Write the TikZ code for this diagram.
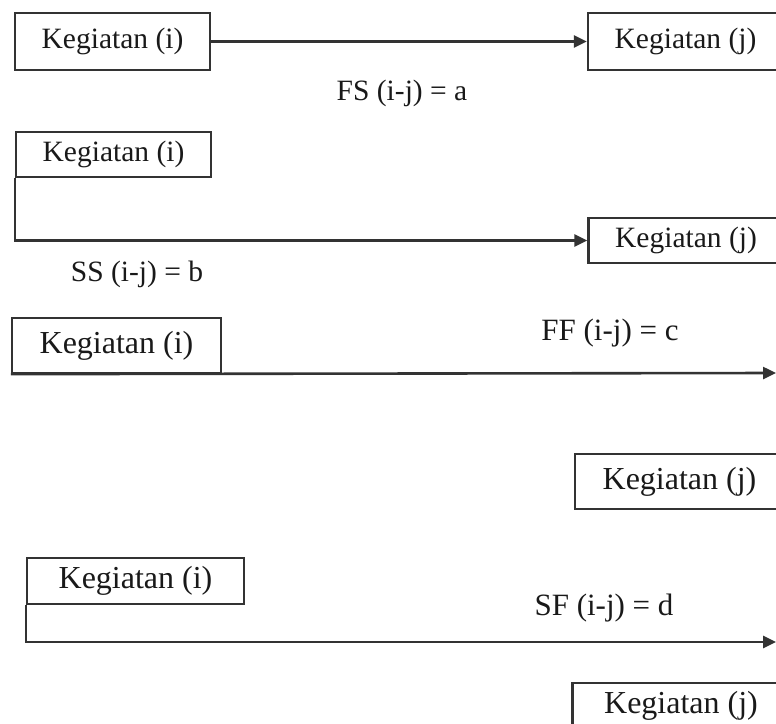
\documentclass[tikz,border=0pt]{standalone}
\usepackage{fontspec}
\setmainfont{Liberation Serif}
\usetikzlibrary{arrows.meta}

\begin{document}
\begin{tikzpicture}[x=1pt, y=-1pt,
            kotak/.style={draw, line width=2.2pt, color=black!80, text=black!90, inner sep=0pt, minimum width=195pt, minimum height=45pt, font=\fontsize{29.5}{31}\selectfont},
            kotakbesar/.style={kotak, font=\fontsize{32}{34}\selectfont},
            garis/.style={line width=2.6pt, color=black!80},
            panah/.style={garis, -{Triangle[length=13pt,width=12pt]}},
            relasi/.style={text=black!90, inner sep=0pt, font=\fontsize{29.5}{31}\selectfont}]
            \useasboundingbox (0,0) rectangle (776,723);
            \clip (0,0) rectangle (776,723);
            % FS
            \node[kotak, minimum height=57pt] (fsi) at (112.5,41.5) {Kegiatan (i)};
            \node[kotak, minimum height=57pt] (fsj) at (685.5,41.5) {Kegiatan (j)};
            \draw[panah] (fsi.east) -- (fsj.west);
            \node[relasi] (fs) at (402,93) {FS (i-j) = a};
            % SS
            \node[kotak] (ssi) at (113.5,154.5) {Kegiatan (i)};
            \node[kotak] (ssj) at (686,240.5) {Kegiatan (j)};
            \draw[panah] (ssi.south west) |- (ssj.west);
            \node[relasi] (ss) at (137,274) {SS (i-j) = b};
            % FF
            \node[kotakbesar, minimum width=209pt, minimum height=55pt] (ffi) at (116.5,345.5) {Kegiatan (i)};
            \node[kotakbesar, minimum width=209pt, minimum height=55pt] (ffj) at (679.5,481.5) {Kegiatan (j)};
            \coordinate (ffe) at (776,373);
            \draw[panah] (ffi.south west) -- (ffe);
            \node[relasi, font=\fontsize{31}{33}\selectfont] (ff) at (610,333) {FF (i-j) = c};
            % SF
            \node[kotakbesar, minimum width=217pt, minimum height=46pt] (sfi) at (135.5,581) {Kegiatan (i)};
            \node[kotakbesar, minimum width=217pt, minimum height=46pt] (sfj) at (681,706) {Kegiatan (j)};
            \coordinate (sfe) at (776,642);
            \draw[panah] (sfi.south west) |- (sfe);
            \node[relasi, font=\fontsize{31}{33}\selectfont] (sf) at (604,608) {SF (i-j) = d};
\end{tikzpicture}
\end{document}
